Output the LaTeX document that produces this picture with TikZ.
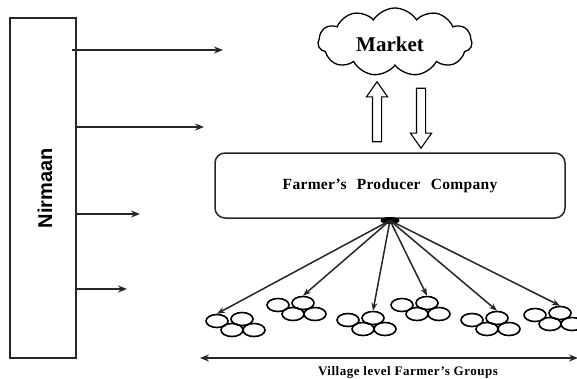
\documentclass[tikz,border=0pt]{standalone}
\usepackage{fontspec}
\setmainfont{Liberation Serif}
\newfontfamily\arialb{Liberation Sans}
\usetikzlibrary{shapes.symbols,shapes.arrows,shapes.geometric,arrows.meta}
\begin{document}
\begin{tikzpicture}[x=1pt,y=-1pt,
  ln/.style={line width=1.5pt,draw=black!85},
  tipa/.style={-{Stealth[length=9pt,width=7pt]}},
  fgc/.style={ellipse,draw=black,line width=1.6pt,minimum width=22pt,minimum height=13pt,inner sep=0pt},
  hollow/.style={single arrow,draw=black,line width=1.1pt,minimum height=60pt,inner sep=4pt,
     single arrow head extend=6pt,single arrow tip angle=70,anchor=center}
]
\useasboundingbox (0,0) rectangle (577,378);
% Nirmaan
\node[ln,draw,rectangle,minimum width=66pt,minimum height=340pt,inner sep=0pt] (nir) at (43,188) {};
\node[rotate=90] (nirt) at (45,188) {\arialb\fontsize{20}{22}\selectfont\bfseries Nirmaan};
\coordinate (a1) at (223,50);
\coordinate (a2) at (204,127);
\coordinate (a3) at (140,214);
\coordinate (a4) at (127,289);
\coordinate (s1) at (72,50);
\draw[ln,tipa] (s1) -- (a1);
\draw[ln,tipa] (nir.east |- a2) -- (a2);
\draw[ln,tipa] (nir.east |- a3) -- (a3);
\draw[ln,tipa] (nir.east |- a4) -- (a4);
% Market
\node[cloud,draw=black,line width=1.3pt,cloud puffs=11,cloud puff arc=115,aspect=2.3,
  minimum width=154pt,minimum height=68pt,inner sep=0pt] (mkt) at (395,42) {};
\node (mktt) at (390,44) {\fontsize{21}{24}\selectfont\bfseries Market};
% FPC
\node[ln,draw,rounded corners=10pt,minimum width=350pt,minimum height=65pt,inner sep=0pt] (fpc) at (390,185.5) {};
\node (fpct) at (390,186) {\fontsize{15.5}{17}\selectfont\bfseries\addfontfeature{LetterSpace=2}Farmer's\hspace{6pt} Producer\hspace{6pt} Company};
% hollow arrows
\node[hollow,rotate=90] (up) at (377,115) {};
\node[hollow,rotate=-90] (dn) at (421,115) {};
% hub
\node[ellipse,fill=black,minimum width=19pt,minimum height=7pt,inner sep=0pt] (hub) at (390,220.5) {};
% groups
\foreach \g/\x/\y in {1/217/321,2/278/305,3/348/320,4/402/305,5/472/320,6/535/315}{
  \node[fgc] (g\g a) at (\x,\y) {};
  \node[fgc] (g\g b) at (\x+25,\y-2) {};
  \node[fgc] (g\g c) at (\x+15,\y+9) {};
  \node[fgc] (g\g d) at (\x+37,\y+9) {};
}
\draw[ln,-{Stealth[length=8pt,width=6pt]}] (hub.center) -- (g1a.north);
\foreach \g in {2,...,6}{
  \draw[ln,-{Stealth[length=8pt,width=6pt]}] (hub.center) -- (g\g b.north);
}
% bottom
\coordinate (bl) at (200,358);
\coordinate (br) at (578,358);
\draw[ln,{Stealth[length=9pt,width=7pt]}-{Stealth[length=9pt,width=7pt]}] (bl) -- (br);
\node (vt) at (408,372) {\fontsize{13}{15}\selectfont\bfseries\addfontfeature{LetterSpace=4}Village level Farmer's Groups};
\end{tikzpicture}
\end{document}
